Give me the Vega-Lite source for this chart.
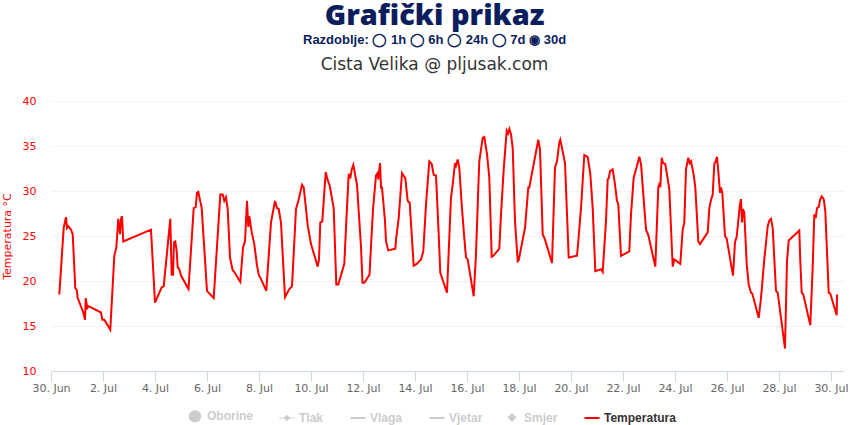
{
  "$schema": "https://vega.github.io/schema/vega-lite/v6.json",
  "background": "white",
  "padding": {"left": 1, "top": 2, "right": 7, "bottom": 0},
  "title": {
    "text": "Grafički prikaz",
    "subtitle": "Razdoblje: ◯ 1h  ◯ 6h  ◯ 24h ◯ 7d  ◉ 30d",
    "anchor": "middle",
    "dx": 10,
    "font": "Open Sans",
    "fontSize": 29,
    "fontWeight": 800,
    "color": "#0c1d5e",
    "subtitleFont": "Liberation Sans",
    "subtitleFontSize": 13,
    "subtitleFontWeight": "bold",
    "subtitleColor": "#0c1d5e",
    "subtitlePadding": 3,
    "offset": 9
  },
  "datasets": {
    "temp": [
      {"t": "2024-06-30T07:40", "v": 18.5},
      {"t": "2024-06-30T11:43", "v": 25.9},
      {"t": "2024-06-30T13:51", "v": 27.1},
      {"t": "2024-06-30T14:46", "v": 25.9},
      {"t": "2024-06-30T15:58", "v": 26.1},
      {"t": "2024-06-30T18:28", "v": 25.7},
      {"t": "2024-06-30T20:02", "v": 25.2},
      {"t": "2024-06-30T22:26", "v": 19.2},
      {"t": "2024-06-30T23:43", "v": 19.0},
      {"t": "2024-07-01T00:39", "v": 18.1},
      {"t": "2024-07-01T05:49", "v": 16.5},
      {"t": "2024-07-01T07:23", "v": 15.7},
      {"t": "2024-07-01T08:02", "v": 18.1},
      {"t": "2024-07-01T09:30", "v": 17.0},
      {"t": "2024-07-01T10:48", "v": 17.2},
      {"t": "2024-07-01T22:09", "v": 16.5},
      {"t": "2024-07-01T23:21", "v": 15.7},
      {"t": "2024-07-02T01:12", "v": 15.7},
      {"t": "2024-07-02T06:44", "v": 14.6},
      {"t": "2024-07-02T10:26", "v": 22.8},
      {"t": "2024-07-02T12:17", "v": 23.7},
      {"t": "2024-07-02T14:07", "v": 26.9},
      {"t": "2024-07-02T15:42", "v": 25.2},
      {"t": "2024-07-02T16:37", "v": 26.9},
      {"t": "2024-07-02T17:32", "v": 27.2},
      {"t": "2024-07-02T18:44", "v": 24.4},
      {"t": "2024-07-03T20:18", "v": 25.7},
      {"t": "2024-07-04T00:00", "v": 17.6},
      {"t": "2024-07-04T06:11", "v": 19.3},
      {"t": "2024-07-04T08:02", "v": 19.4},
      {"t": "2024-07-04T14:07", "v": 26.9},
      {"t": "2024-07-04T15:25", "v": 20.7},
      {"t": "2024-07-04T16:37", "v": 20.7},
      {"t": "2024-07-04T17:32", "v": 24.3},
      {"t": "2024-07-04T18:44", "v": 24.4},
      {"t": "2024-07-04T20:02", "v": 23.3},
      {"t": "2024-07-04T20:57", "v": 21.5},
      {"t": "2024-07-04T22:26", "v": 21.3},
      {"t": "2024-07-05T00:00", "v": 20.6},
      {"t": "2024-07-05T06:55", "v": 19.1},
      {"t": "2024-07-05T11:43", "v": 28.1},
      {"t": "2024-07-05T13:34", "v": 28.2},
      {"t": "2024-07-05T14:46", "v": 29.8},
      {"t": "2024-07-05T15:58", "v": 29.9},
      {"t": "2024-07-05T19:06", "v": 28.1},
      {"t": "2024-07-06T00:00", "v": 18.9},
      {"t": "2024-07-06T06:11", "v": 18.1},
      {"t": "2024-07-06T12:17", "v": 29.6},
      {"t": "2024-07-06T14:29", "v": 29.6},
      {"t": "2024-07-06T15:58", "v": 28.9},
      {"t": "2024-07-06T17:32", "v": 29.3},
      {"t": "2024-07-06T19:06", "v": 28.0},
      {"t": "2024-07-06T21:14", "v": 22.6},
      {"t": "2024-07-06T23:43", "v": 21.2},
      {"t": "2024-07-07T01:12", "v": 21.0},
      {"t": "2024-07-07T06:44", "v": 19.9},
      {"t": "2024-07-07T09:14", "v": 23.7},
      {"t": "2024-07-07T11:05", "v": 24.4},
      {"t": "2024-07-07T12:55", "v": 28.9},
      {"t": "2024-07-07T14:07", "v": 26.0},
      {"t": "2024-07-07T15:03", "v": 27.2},
      {"t": "2024-07-07T17:16", "v": 25.4},
      {"t": "2024-07-07T19:40", "v": 24.1},
      {"t": "2024-07-07T22:09", "v": 21.7},
      {"t": "2024-07-08T00:00", "v": 20.6},
      {"t": "2024-07-08T01:12", "v": 20.4},
      {"t": "2024-07-08T06:44", "v": 18.9},
      {"t": "2024-07-08T11:05", "v": 26.5},
      {"t": "2024-07-08T14:46", "v": 28.9},
      {"t": "2024-07-08T16:37", "v": 28.1},
      {"t": "2024-07-08T18:11", "v": 28.0},
      {"t": "2024-07-08T20:18", "v": 26.5},
      {"t": "2024-07-09T00:00", "v": 18.2},
      {"t": "2024-07-09T03:58", "v": 19.1},
      {"t": "2024-07-09T06:28", "v": 19.4},
      {"t": "2024-07-09T10:09", "v": 28.0},
      {"t": "2024-07-09T12:17", "v": 28.9},
      {"t": "2024-07-09T15:42", "v": 30.7},
      {"t": "2024-07-09T17:16", "v": 30.4},
      {"t": "2024-07-09T20:57", "v": 26.2},
      {"t": "2024-07-10T00:00", "v": 24.1},
      {"t": "2024-07-10T06:11", "v": 21.6},
      {"t": "2024-07-10T07:23", "v": 22.4},
      {"t": "2024-07-10T08:35", "v": 26.5},
      {"t": "2024-07-10T10:26", "v": 26.6},
      {"t": "2024-07-10T13:34", "v": 32.1},
      {"t": "2024-07-10T15:25", "v": 31.2},
      {"t": "2024-07-10T17:16", "v": 30.6},
      {"t": "2024-07-10T20:57", "v": 28.1},
      {"t": "2024-07-10T23:21", "v": 19.6},
      {"t": "2024-07-11T01:12", "v": 19.6},
      {"t": "2024-07-11T06:44", "v": 21.9},
      {"t": "2024-07-11T08:18", "v": 25.9},
      {"t": "2024-07-11T10:48", "v": 31.9},
      {"t": "2024-07-11T12:17", "v": 31.4},
      {"t": "2024-07-11T13:34", "v": 32.4},
      {"t": "2024-07-11T15:03", "v": 32.9},
      {"t": "2024-07-11T18:28", "v": 30.7},
      {"t": "2024-07-11T22:09", "v": 23.8},
      {"t": "2024-07-11T23:32", "v": 19.8},
      {"t": "2024-07-12T01:12", "v": 19.8},
      {"t": "2024-07-12T06:00", "v": 20.7},
      {"t": "2024-07-12T09:14", "v": 28.0},
      {"t": "2024-07-12T12:00", "v": 31.7},
      {"t": "2024-07-12T13:34", "v": 32.0},
      {"t": "2024-07-12T14:07", "v": 31.3},
      {"t": "2024-07-12T15:42", "v": 33.1},
      {"t": "2024-07-12T16:37", "v": 30.4},
      {"t": "2024-07-12T17:32", "v": 30.4},
      {"t": "2024-07-12T20:18", "v": 26.7},
      {"t": "2024-07-12T21:14", "v": 24.4},
      {"t": "2024-07-12T23:21", "v": 23.4},
      {"t": "2024-07-13T05:49", "v": 23.6},
      {"t": "2024-07-13T06:28", "v": 24.6},
      {"t": "2024-07-13T08:57", "v": 27.0},
      {"t": "2024-07-13T12:00", "v": 32.0},
      {"t": "2024-07-13T13:34", "v": 31.7},
      {"t": "2024-07-13T15:03", "v": 31.4},
      {"t": "2024-07-13T17:16", "v": 28.9},
      {"t": "2024-07-13T19:06", "v": 28.7},
      {"t": "2024-07-13T22:48", "v": 21.7},
      {"t": "2024-07-14T01:34", "v": 21.9},
      {"t": "2024-07-14T05:32", "v": 22.4},
      {"t": "2024-07-14T07:40", "v": 23.3},
      {"t": "2024-07-14T10:09", "v": 28.5},
      {"t": "2024-07-14T13:12", "v": 33.3},
      {"t": "2024-07-14T15:25", "v": 33.0},
      {"t": "2024-07-14T17:16", "v": 31.8},
      {"t": "2024-07-14T19:23", "v": 31.7},
      {"t": "2024-07-14T21:53", "v": 25.2},
      {"t": "2024-07-14T23:21", "v": 20.9},
      {"t": "2024-07-15T05:32", "v": 18.7},
      {"t": "2024-07-15T09:14", "v": 29.3},
      {"t": "2024-07-15T10:48", "v": 30.7},
      {"t": "2024-07-15T12:55", "v": 33.1},
      {"t": "2024-07-15T13:51", "v": 32.8},
      {"t": "2024-07-15T15:25", "v": 33.5},
      {"t": "2024-07-15T16:53", "v": 32.6},
      {"t": "2024-07-15T19:06", "v": 28.5},
      {"t": "2024-07-15T20:57", "v": 25.6},
      {"t": "2024-07-15T23:05", "v": 22.6},
      {"t": "2024-07-16T00:39", "v": 22.4},
      {"t": "2024-07-16T06:11", "v": 18.3},
      {"t": "2024-07-16T08:18", "v": 23.0},
      {"t": "2024-07-16T10:26", "v": 30.4},
      {"t": "2024-07-16T11:21", "v": 33.3},
      {"t": "2024-07-16T14:29", "v": 35.9},
      {"t": "2024-07-16T15:58", "v": 36.0},
      {"t": "2024-07-16T18:28", "v": 34.1},
      {"t": "2024-07-16T20:35", "v": 31.5},
      {"t": "2024-07-16T22:48", "v": 22.7},
      {"t": "2024-07-17T00:17", "v": 22.8},
      {"t": "2024-07-17T05:49", "v": 23.6},
      {"t": "2024-07-17T07:23", "v": 27.4},
      {"t": "2024-07-17T09:53", "v": 32.4},
      {"t": "2024-07-17T12:39", "v": 36.7},
      {"t": "2024-07-17T13:51", "v": 36.4},
      {"t": "2024-07-17T15:03", "v": 36.9},
      {"t": "2024-07-17T16:37", "v": 36.3},
      {"t": "2024-07-17T18:11", "v": 34.8},
      {"t": "2024-07-17T20:18", "v": 26.7},
      {"t": "2024-07-17T22:48", "v": 22.2},
      {"t": "2024-07-17T23:43", "v": 22.3},
      {"t": "2024-07-18T05:32", "v": 25.9},
      {"t": "2024-07-18T08:35", "v": 30.4},
      {"t": "2024-07-18T09:30", "v": 30.4},
      {"t": "2024-07-18T17:49", "v": 35.7},
      {"t": "2024-07-18T19:23", "v": 34.6},
      {"t": "2024-07-18T21:53", "v": 25.2},
      {"t": "2024-07-19T00:00", "v": 24.6},
      {"t": "2024-07-19T06:28", "v": 22.0},
      {"t": "2024-07-19T09:14", "v": 32.6},
      {"t": "2024-07-19T11:05", "v": 33.3},
      {"t": "2024-07-19T13:12", "v": 35.4},
      {"t": "2024-07-19T14:07", "v": 35.7},
      {"t": "2024-07-19T16:20", "v": 34.4},
      {"t": "2024-07-19T18:28", "v": 33.1},
      {"t": "2024-07-19T21:53", "v": 22.6},
      {"t": "2024-07-20T05:32", "v": 22.8},
      {"t": "2024-07-20T06:44", "v": 24.4},
      {"t": "2024-07-20T09:14", "v": 28.1},
      {"t": "2024-07-20T12:17", "v": 34.0},
      {"t": "2024-07-20T15:25", "v": 33.8},
      {"t": "2024-07-20T17:49", "v": 31.9},
      {"t": "2024-07-20T20:02", "v": 28.1},
      {"t": "2024-07-20T22:26", "v": 21.1},
      {"t": "2024-07-21T03:42", "v": 21.3},
      {"t": "2024-07-21T05:16", "v": 21.0},
      {"t": "2024-07-21T08:18", "v": 26.7},
      {"t": "2024-07-21T09:53", "v": 31.3},
      {"t": "2024-07-21T10:48", "v": 31.4},
      {"t": "2024-07-21T12:00", "v": 32.2},
      {"t": "2024-07-21T14:29", "v": 32.4},
      {"t": "2024-07-21T16:37", "v": 30.7},
      {"t": "2024-07-21T18:28", "v": 28.9},
      {"t": "2024-07-21T19:40", "v": 28.5},
      {"t": "2024-07-21T22:09", "v": 22.8},
      {"t": "2024-07-22T05:49", "v": 23.3},
      {"t": "2024-07-22T07:23", "v": 27.4},
      {"t": "2024-07-22T09:53", "v": 31.5},
      {"t": "2024-07-22T12:00", "v": 32.4},
      {"t": "2024-07-22T15:03", "v": 33.8},
      {"t": "2024-07-22T16:37", "v": 33.0},
      {"t": "2024-07-22T21:14", "v": 25.7},
      {"t": "2024-07-22T23:21", "v": 25.1},
      {"t": "2024-07-23T05:49", "v": 21.6},
      {"t": "2024-07-23T08:35", "v": 30.4},
      {"t": "2024-07-23T09:53", "v": 30.9},
      {"t": "2024-07-23T10:26", "v": 30.4},
      {"t": "2024-07-23T11:43", "v": 33.7},
      {"t": "2024-07-23T12:55", "v": 33.1},
      {"t": "2024-07-23T15:03", "v": 33.0},
      {"t": "2024-07-23T18:44", "v": 30.2},
      {"t": "2024-07-23T21:53", "v": 21.6},
      {"t": "2024-07-23T23:21", "v": 22.4},
      {"t": "2024-07-24T04:53", "v": 21.9},
      {"t": "2024-07-24T07:06", "v": 25.7},
      {"t": "2024-07-24T08:35", "v": 26.5},
      {"t": "2024-07-24T10:09", "v": 32.4},
      {"t": "2024-07-24T12:17", "v": 33.7},
      {"t": "2024-07-24T13:34", "v": 33.1},
      {"t": "2024-07-24T14:46", "v": 33.3},
      {"t": "2024-07-24T17:16", "v": 31.8},
      {"t": "2024-07-24T18:44", "v": 30.4},
      {"t": "2024-07-24T21:31", "v": 24.4},
      {"t": "2024-07-24T23:05", "v": 24.1},
      {"t": "2024-07-25T06:11", "v": 25.4},
      {"t": "2024-07-25T07:40", "v": 28.1},
      {"t": "2024-07-25T09:14", "v": 29.0},
      {"t": "2024-07-25T10:48", "v": 29.6},
      {"t": "2024-07-25T12:17", "v": 33.0},
      {"t": "2024-07-25T13:34", "v": 33.3},
      {"t": "2024-07-25T14:46", "v": 33.8},
      {"t": "2024-07-25T15:58", "v": 32.2},
      {"t": "2024-07-25T17:32", "v": 29.8},
      {"t": "2024-07-25T18:28", "v": 30.4},
      {"t": "2024-07-25T19:40", "v": 29.8},
      {"t": "2024-07-25T22:09", "v": 25.0},
      {"t": "2024-07-25T23:43", "v": 24.7},
      {"t": "2024-07-26T05:32", "v": 20.6},
      {"t": "2024-07-26T07:23", "v": 24.3},
      {"t": "2024-07-26T08:57", "v": 24.9},
      {"t": "2024-07-26T10:26", "v": 26.7},
      {"t": "2024-07-26T11:43", "v": 28.3},
      {"t": "2024-07-26T12:55", "v": 29.1},
      {"t": "2024-07-26T13:51", "v": 26.5},
      {"t": "2024-07-26T14:46", "v": 28.0},
      {"t": "2024-07-26T15:58", "v": 27.6},
      {"t": "2024-07-26T18:11", "v": 21.9},
      {"t": "2024-07-26T20:02", "v": 19.6},
      {"t": "2024-07-26T22:09", "v": 18.7},
      {"t": "2024-07-26T23:21", "v": 18.6},
      {"t": "2024-07-27T05:16", "v": 15.9},
      {"t": "2024-07-27T07:23", "v": 18.1},
      {"t": "2024-07-27T10:26", "v": 22.4},
      {"t": "2024-07-27T13:34", "v": 26.1},
      {"t": "2024-07-27T15:03", "v": 26.7},
      {"t": "2024-07-27T16:37", "v": 26.9},
      {"t": "2024-07-27T18:11", "v": 25.9},
      {"t": "2024-07-27T21:14", "v": 18.9},
      {"t": "2024-07-27T22:48", "v": 18.7},
      {"t": "2024-07-28T05:32", "v": 12.5},
      {"t": "2024-07-28T07:23", "v": 22.2},
      {"t": "2024-07-28T08:57", "v": 24.5},
      {"t": "2024-07-28T18:44", "v": 25.6},
      {"t": "2024-07-28T19:40", "v": 22.2},
      {"t": "2024-07-28T20:57", "v": 18.7},
      {"t": "2024-07-28T22:26", "v": 18.5},
      {"t": "2024-07-29T04:53", "v": 15.1},
      {"t": "2024-07-29T07:06", "v": 21.5},
      {"t": "2024-07-29T08:35", "v": 27.4},
      {"t": "2024-07-29T09:53", "v": 27.0},
      {"t": "2024-07-29T11:05", "v": 28.1},
      {"t": "2024-07-29T12:39", "v": 28.2},
      {"t": "2024-07-29T13:51", "v": 29.0},
      {"t": "2024-07-29T15:25", "v": 29.4},
      {"t": "2024-07-29T17:16", "v": 29.1},
      {"t": "2024-07-29T18:44", "v": 27.8},
      {"t": "2024-07-29T21:53", "v": 18.7},
      {"t": "2024-07-29T23:21", "v": 18.6},
      {"t": "2024-07-30T05:16", "v": 16.2},
      {"t": "2024-07-30T05:32", "v": 18.5}
    ]
  },
  "vconcat": [
    {
      "title": {
        "text": "Cista Velika @ pljusak.com",
        "font": "DejaVu Sans",
        "fontSize": 17,
        "fontWeight": "normal",
        "color": "#333333",
        "anchor": "middle",
        "frame": "group",
        "dx": -13,
        "offset": 21
      },
      "width": 793,
      "height": 270,
      "data": {"name": "temp"},
      "mark": {"type": "line", "strokeWidth": 2, "interpolate": "linear"},
      "encoding": {
        "x": {
          "field": "t",
          "type": "temporal",
          "scale": {
            "domain": [
              {"year": 2024, "month": 6, "date": 30},
              {"year": 2024, "month": 7, "date": 30, "hours": 12}
            ],
            "nice": false
          },
          "axis": {
            "title": null,
            "format": "%-d. %b",
            "values": [
              {"year": 2024, "month": 6, "date": 30},
              {"year": 2024, "month": 7, "date": 2},
              {"year": 2024, "month": 7, "date": 4},
              {"year": 2024, "month": 7, "date": 6},
              {"year": 2024, "month": 7, "date": 8},
              {"year": 2024, "month": 7, "date": 10},
              {"year": 2024, "month": 7, "date": 12},
              {"year": 2024, "month": 7, "date": 14},
              {"year": 2024, "month": 7, "date": 16},
              {"year": 2024, "month": 7, "date": 18},
              {"year": 2024, "month": 7, "date": 20},
              {"year": 2024, "month": 7, "date": 22},
              {"year": 2024, "month": 7, "date": 24},
              {"year": 2024, "month": 7, "date": 26},
              {"year": 2024, "month": 7, "date": 28},
              {"year": 2024, "month": 7, "date": 30}
            ],
            "grid": false,
            "domainColor": "#ccd6eb",
            "tickColor": "#ccd6eb",
            "tickSize": 10,
            "labelColor": "#666666",
            "labelFont": "DejaVu Sans",
            "labelFontSize": 11,
            "labelPadding": 1,
            "labelFlush": false,
            "labelOverlap": false
          }
        },
        "y": {
          "field": "v",
          "type": "quantitative",
          "scale": {"domain": [10, 40], "nice": false, "zero": false},
          "axis": {
            "title": "Temperatura °C",
            "titleColor": "#ff0000",
            "titleFont": "DejaVu Sans",
            "titleFontSize": 11,
            "titleFontWeight": "normal",
            "titlePadding": 10,
            "values": [10, 15, 20, 25, 30, 35, 40],
            "labelColor": "#ff0000",
            "labelFont": "DejaVu Sans",
            "labelFontSize": 11,
            "labelPadding": 15,
            "ticks": false,
            "tickSize": 0,
            "domain": false,
            "grid": true,
            "gridColor": "#f3f3f3",
            "gridWidth": 1
          }
        },
        "color": {
          "datum": "Temperatura",
          "type": "nominal",
          "scale": {
            "domain": ["Oborine", "Tlak", "Vlaga", "Vjetar", "Smjer", "Temperatura"],
            "range": ["#cccccc", "#cccccc", "#cccccc", "#cccccc", "#cccccc", "#ff0000"]
          },
          "legend": {
            "title": null,
            "orient": "none",
            "legendX": 138,
            "legendY": 309,
            "direction": "horizontal",
            "columnPadding": 22,
            "symbolType": "stroke",
            "symbolSize": 225,
            "symbolStrokeWidth": 2,
            "labelFont": "Liberation Sans",
            "labelFontSize": 12,
            "labelFontWeight": "bold",
            "labelOffset": 6,
            "labelLimit": 200,
            "encode": {
              "symbols": {
                "update": {
                  "shape": {"signal": "datum.value === 'Oborine' ? 'circle' : datum.value === 'Smjer' ? 'diamond' : datum.value === 'Tlak' ? 'M-1,0L-0.8,0M-0.6,0L-0.35,0M0.35,0L0.6,0M0.8,0L1,0M0,-0.28L0.28,0L0,0.28L-0.28,0Z' : 'stroke'"},
                  "size": {"signal": "datum.value === 'Oborine' ? 110 : datum.value === 'Smjer' ? 36 : 225"},
                  "fill": {"signal": "datum.value === 'Oborine' || datum.value === 'Smjer' || datum.value === 'Tlak' ? '#cccccc' : 'transparent'"},
                  "stroke": {"signal": "datum.value === 'Temperatura' ? '#ff0000' : (datum.value === 'Oborine' || datum.value === 'Smjer') ? 'transparent' : '#cccccc'"},
                  "strokeWidth": {"signal": "datum.value === 'Tlak' ? 1.5 : 2"}
                }
              },
              "labels": {
                "update": {
                  "fill": {"signal": "datum.value === 'Temperatura' ? '#333333' : '#cccccc'"}
                }
              }
            }
          }
        }
      }
    }
  ],
  "config": {
    "view": {"stroke": null}
  }
}
